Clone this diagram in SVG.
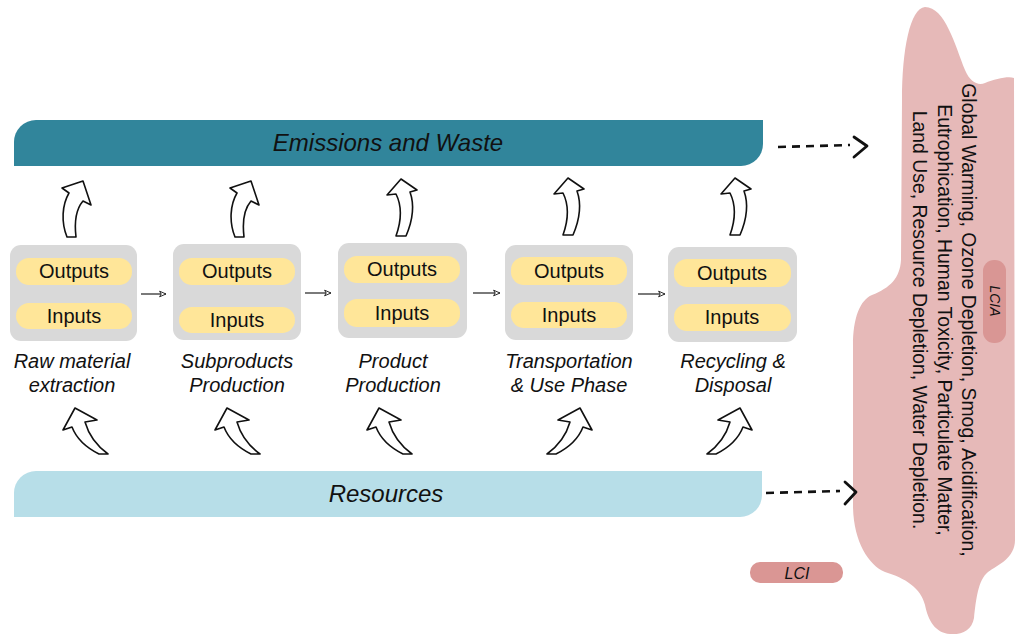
<svg xmlns="http://www.w3.org/2000/svg" width="1016" height="635" viewBox="0 0 1016 635">
<style>
text{font-family:"Liberation Sans",Arial,sans-serif;fill:#111}
.it{font-style:italic}
.box{fill:#d9d9d9}
.pill{fill:#ffe699}
.pt{font-size:20px;text-anchor:middle}
.lbl{font-size:20px;font-style:italic;text-anchor:middle}
.ca{fill:#fff;stroke:#111;stroke-width:1.6;stroke-linejoin:round}
.sa{stroke:#222;stroke-width:1.2;fill:none}
.da{stroke:#111;stroke-width:2.6;fill:none;stroke-dasharray:8 6}
.chev{stroke:#111;stroke-width:2.8;fill:none;stroke-linecap:round;stroke-linejoin:round}
.imp{font-size:19.4px;text-anchor:middle}
</style>
<defs>
<marker id="oh" viewBox="0 0 10 10" refX="9" refY="5" markerWidth="8" markerHeight="8" markerUnits="userSpaceOnUse" orient="auto">
<path d="M1,1.5 L9,5 L1,8.5 L3,5 Z" fill="#fff" stroke="#222" stroke-width="1.2"/>
</marker>
<path id="upA" d="M21,1 L29,25 L21,21 C15,28 12,40 14,57 L5,57 C-1,42 0,25 7,13 L0,8 Z"/>
<path id="upB" d="M13,0 L29,11 L22,13 C27,27 24,43 18,57 L8,57 C13,43 15,29 8,15 L-1,16 Z"/>
<path id="upL" d="M12,0 L34,12 L22,14 C26,28 34,38 45,46 L36,46 C24,40 14,32 9,19 L0,22 Z"/>
</defs>

<g id="lcia-blob">
<path d="M925,7 C945,7 955,45 965,70 C970,82 978,86 985,83 C995,79 1008,76 1014,78 L1015,540 C1015,558 998,565 988,572 C978,580 976,600 974,618 C972,630 962,635 950,634 C935,633 928,620 925,605 C921,588 905,578 885,572 C868,565 853,540 853,505 L853,345 C853,318 860,300 872,295 C890,288 900,278 901,260 L902,100 C902,50 910,8 925,7 Z" fill="#e6b9b8"/>
<rect x="983" y="260" width="23" height="83" rx="11" fill="#d99694"/>
<text class="it" font-size="14" text-anchor="middle" transform="translate(989.5,301) rotate(90)">LCIA</text>
<g transform="translate(962,320) rotate(90)">
<text class="imp" x="0" y="0">Global Warming, Ozone Depletion, Smog, Acidification,</text>
<text class="imp" x="0" y="24.5">Eutrophication, Human Toxicity, Particulate Matter,</text>
<text class="imp" x="0" y="49">Land Use, Resource Depletion, Water Depletion.</text>
</g>
</g>

<g id="emissions">
<path d="M14,166 V142 A22,22 0 0 1 36,120 H763 V144 A22,22 0 0 1 741,166 Z" fill="#31859b"/>
<text class="it" x="388" y="151" font-size="24" text-anchor="middle">Emissions and Waste</text>
</g>

<g id="resources">
<path d="M14,517 V493 A22,22 0 0 1 36,471 H762 V495 A22,22 0 0 1 740,517 Z" fill="#b7dee8"/>
<text class="it" x="386" y="502" font-size="24" text-anchor="middle">Resources</text>
</g>

<g id="lci">
<rect x="750" y="562" width="93" height="21" rx="10" fill="#da9694"/>
<text class="it" x="797" y="579" font-size="16" text-anchor="middle">LCI</text>
</g>

<g id="stage1">
<rect class="box" x="10" y="245" width="127" height="96" rx="11"/>
<rect class="pill" x="16" y="258" width="116" height="27" rx="13"/>
<rect class="pill" x="16" y="303" width="116" height="26" rx="13"/>
<text class="pt" x="74" y="278">Outputs</text>
<text class="pt" x="74" y="323">Inputs</text>
<text class="lbl" x="72" y="368">Raw material</text>
<text class="lbl" x="72" y="392">extraction</text>
</g>
<g id="stage2">
<rect class="box" x="173" y="244" width="128" height="96" rx="11"/>
<rect class="pill" x="179" y="258" width="116" height="27" rx="13"/>
<rect class="pill" x="179" y="307" width="116" height="26" rx="13"/>
<text class="pt" x="237" y="278">Outputs</text>
<text class="pt" x="237" y="327">Inputs</text>
<text class="lbl" x="237" y="368">Subproducts</text>
<text class="lbl" x="237" y="392">Production</text>
</g>
<g id="stage3">
<rect class="box" x="338" y="243" width="129" height="95" rx="11"/>
<rect class="pill" x="344" y="256" width="116" height="27" rx="13"/>
<rect class="pill" x="344" y="299" width="116" height="28" rx="13"/>
<text class="pt" x="402" y="276">Outputs</text>
<text class="pt" x="402" y="320">Inputs</text>
<text class="lbl" x="393" y="368">Product</text>
<text class="lbl" x="393" y="392">Production</text>
</g>
<g id="stage4">
<rect class="box" x="505" y="245" width="128" height="95" rx="11"/>
<rect class="pill" x="511" y="257" width="116" height="28" rx="13"/>
<rect class="pill" x="511" y="302" width="116" height="26" rx="13"/>
<text class="pt" x="569" y="278">Outputs</text>
<text class="pt" x="569" y="322">Inputs</text>
<text class="lbl" x="569" y="368">Transportation</text>
<text class="lbl" x="569" y="392">&amp; Use Phase</text>
</g>
<g id="stage5">
<rect class="box" x="668" y="247" width="129" height="95" rx="11"/>
<rect class="pill" x="674" y="259" width="117" height="28" rx="13"/>
<rect class="pill" x="674" y="304" width="117" height="27" rx="13"/>
<text class="pt" x="732" y="280">Outputs</text>
<text class="pt" x="732" y="324">Inputs</text>
<text class="lbl" x="733" y="368">Recycling &amp;</text>
<text class="lbl" x="733" y="392">Disposal</text>
</g>

<g id="connectors">
<line class="sa" x1="141" y1="294" x2="166" y2="294" marker-end="url(#oh)"/>
<line class="sa" x1="305" y1="293" x2="331" y2="293" marker-end="url(#oh)"/>
<line class="sa" x1="473" y1="293" x2="500" y2="293" marker-end="url(#oh)"/>
<line class="sa" x1="638" y1="294" x2="665" y2="294" marker-end="url(#oh)"/>

<use href="#upA" class="ca" transform="translate(62,180)"/>
<use href="#upA" class="ca" transform="translate(230,180)"/>
<use href="#upB" class="ca" transform="translate(388,179)"/>
<use href="#upB" class="ca" transform="translate(555,178)"/>
<use href="#upB" class="ca" transform="translate(722,178)"/>

<use href="#upL" class="ca" transform="translate(63,408)"/>
<use href="#upL" class="ca" transform="translate(215,408)"/>
<use href="#upL" class="ca" transform="translate(367,408)"/>
<use href="#upL" class="ca" transform="translate(592,408) scale(-1,1)"/>
<use href="#upL" class="ca" transform="translate(752,408) scale(-1,1)"/>

<path class="da" d="M778,147 L850,145"/>
<polyline class="chev" points="854,137 867,146 854,157"/>
<path class="da" d="M766,493 L840,491"/>
<polyline class="chev" points="845,482 856,492 845,504"/>
</g>
</svg>
